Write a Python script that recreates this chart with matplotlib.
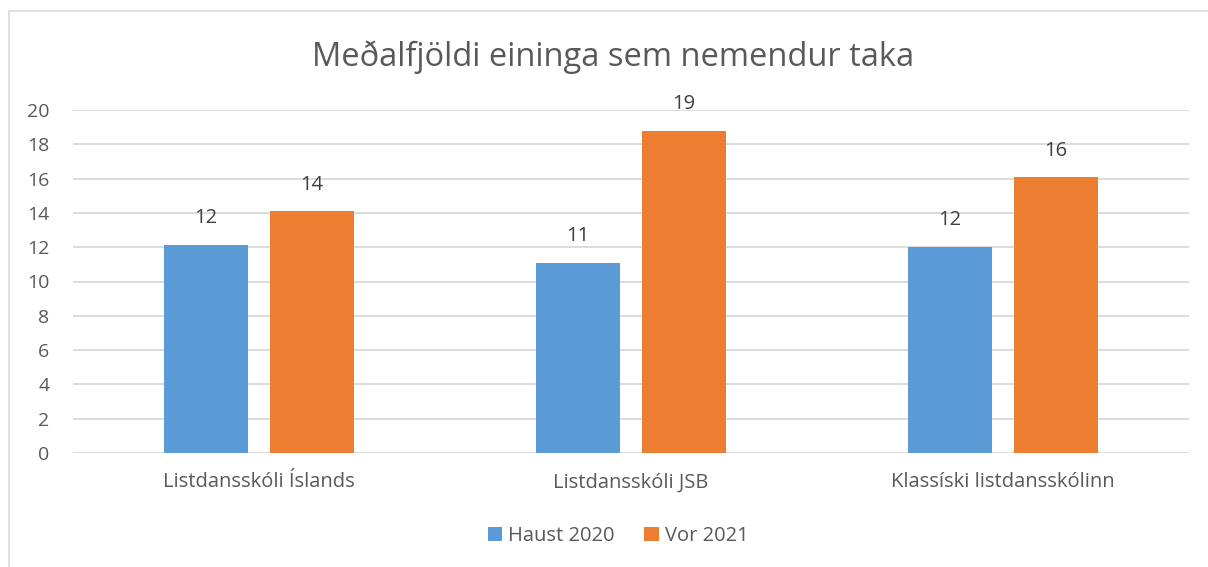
import matplotlib
matplotlib.use("Agg")
import matplotlib.pyplot as plt
import numpy as np
from matplotlib.patches import Rectangle

categories = ["Listdansskóli Íslands", "Listdansskóli JSB", "Klassíski listdansskólinn"]
series_names = ["Haust 2020", "Vor 2021"]
haust_2020 = [12.15, 11.08, 12.01]
vor_2021 = [14.1, 18.78, 16.08]
yticks = [0, 2, 4, 6, 8, 10, 12, 14, 16, 18, 20]
title = "Meðalfjöldi eininga sem nemendur taka"

colors = ["#5b9bd5", "#ed7d31"]
text_color = "#595959"
font = "Open Sans"
plt.rcParams['font.family'] = [font, 'DejaVu Sans']

W, H = 1208, 567
fig = plt.figure(figsize=(W / 100, H / 100), dpi=100)
# chart frame
fig.patches.append(Rectangle((9 / W, -0.1), 1.2, (H - 11) / H + 0.1, transform=fig.transFigure,
                             fill=False, edgecolor="#d9d9d9", linewidth=1.2))

ax = fig.add_axes([73 / W, (H - 453) / H, (1189 - 73) / W, (453 - 110) / H])
x = np.arange(len(categories))
bw = 0.226
off = 0.1425
b1 = ax.bar(x - off, haust_2020, bw, color=colors[0], label=series_names[0], zorder=3)
b2 = ax.bar(x + off, vor_2021, bw, color=colors[1], label=series_names[1], zorder=3)
for bars in (b1, b2):
    for r in bars:
        ax.annotate(f"{r.get_height():.0f}", (r.get_x() + r.get_width() / 2, r.get_height()),
                    xytext=(0, 12), textcoords="offset points", ha="center", va="bottom",
                    fontsize=14.5, color="#404040")

ax.set_xlim(-0.5, 2.5)
ax.set_ylim(0, 20)
ax.set_yticks(yticks)
ax.set_xticks(x)
ax.set_xticklabels(categories)
ax.tick_params(axis="y", length=0, labelsize=14, labelcolor=text_color, pad=17)
ax.tick_params(axis="x", length=0, labelsize=14.5, labelcolor=text_color, pad=14)
ax.grid(axis="y", color="#d9d9d9", linewidth=1.3, zorder=0)
for s in ax.spines.values():
    s.set_visible(False)

fig.text(613 / W, (H - 57) / H, title, ha="center", va="center", fontsize=23.5, color=text_color)

leg = fig.legend(loc="center", bbox_to_anchor=(618 / W, (H - 536) / H), ncol=2, frameon=False,
                 fontsize=14.5, handlelength=0.7, handleheight=0.7, columnspacing=1.5,
                 handletextpad=0.3)
for t in leg.get_texts():
    t.set_color(text_color)

fig.savefig("out.png", dpi=100)
